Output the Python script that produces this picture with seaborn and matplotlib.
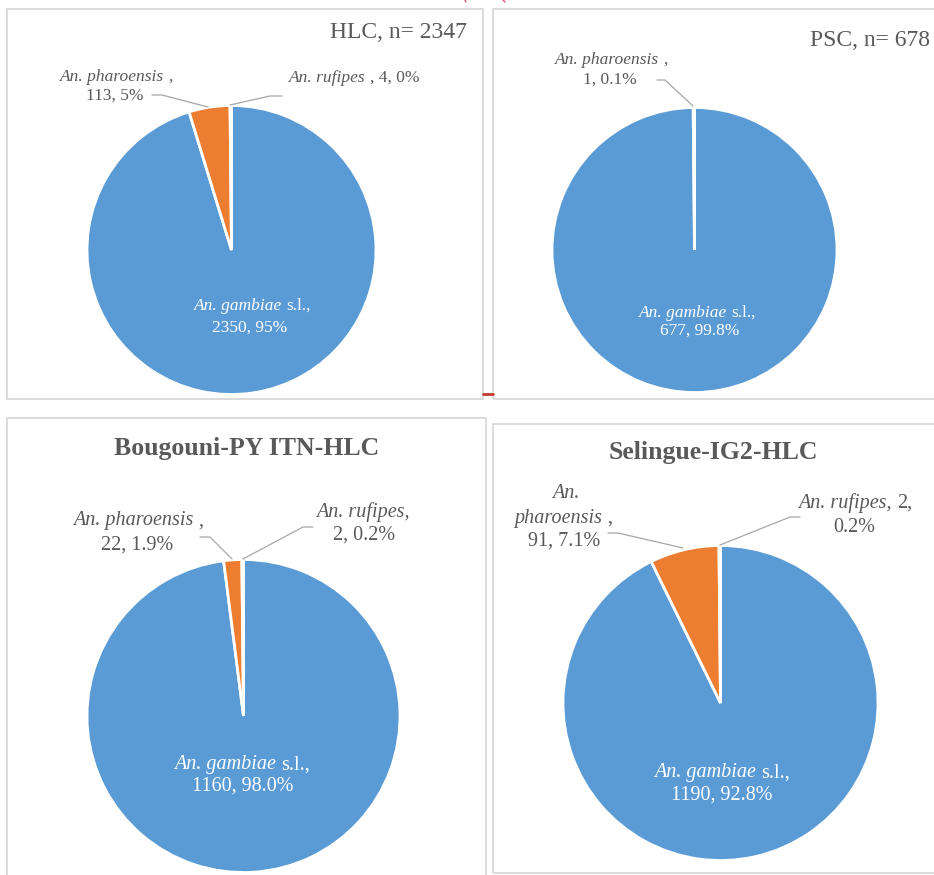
import numpy as np
import pandas as pd
import seaborn as sns
import matplotlib.pyplot as plt
from matplotlib.patches import Rectangle

sns.set_theme(style="white")
plt.rcParams["font.family"] = ["Liberation Serif", "DejaVu Serif"]

# data
species = ["An. gambiae", "An. pharoensis", "An. rufipes"]
hlc_counts = [2350, 113, 4]
hlc_labels = ["2350, 95%", "113, 5%", "4, 0%"]
psc_counts = [677, 1]
psc_labels = ["677, 99.8%", "1, 0.1%"]
bougouni_counts = [1160, 22, 2]
bougouni_labels = ["1160, 98.0%", "22, 1.9%", "2, 0.2%"]
selingue_counts = [1190, 91, 2]
selingue_labels = ["1190, 92.8%", "91, 7.1%", "2, 0.2%"]

colors = ["#5B9BD5", "#ED7D31", "#A5A5A5"]
txt = "#595959"
line_c = "#A6A6A6"
H = 875

fig = plt.figure(figsize=(9.34, 8.75), dpi=100)
ax = fig.add_axes([0, 0, 1, 1])
ax.set_xlim(0, 934)
ax.set_ylim(0, H)
renderer = fig.canvas.get_renderer()


def Y(y):
    return H - np.asarray(y)


def box(x0, y0, x1, y1):
    ax.add_patch(Rectangle((x0, Y(y1)), x1 - x0, y1 - y0, fill=False,
                           ec="#D9D9D9", lw=1.3, clip_on=False))


def pie(counts, cx, cy, r):
    ax.pie(counts, colors=colors[:len(counts)], startangle=90, counterclock=False,
           center=(cx, Y(cy)), radius=r, frame=True,
           wedgeprops=dict(edgecolor="white", linewidth=2))


def leader(xs, ys):
    ax.plot(xs, Y(ys), color=line_c, lw=0.9)


def label(x, y, parts, size, color=txt):
    # parts: list of (text, italic); a space is put between parts
    if isinstance(parts, str):
        parts = [(parts, False)]
    gap = size * 100 / 72 * 0.25
    objs = []
    for s, italic in parts:
        t = ax.text(0, Y(y), s, ha="left", va="center", fontsize=size, color=color,
                    fontstyle="italic" if italic else "normal")
        objs.append(t)
    widths = [t.get_window_extent(renderer).width for t in objs]
    total = sum(widths) + gap * (len(objs) - 1)
    cur = x - total / 2
    for t, w in zip(objs, widths):
        t.set_x(cur)
        cur += w + gap


# panel frames
box(7, 9, 483, 399)
box(493, 9, 945, 399)
box(7, 418, 486, 890)
box(493, 424, 945, 873)
ax.plot([483, 493], Y([394, 394]), color="#C0392B", lw=2)
ax.plot([465, 466], Y([0, 2]), color="#E05070", lw=1)
ax.plot([503, 505], Y([0, 2]), color="#E05070", lw=1)

# HLC
pie(hlc_counts, 231.5, 250, 144.5)
ax.text(467, Y(32), "HLC, n= 2347", ha="right", va="center", fontsize=17, color=txt)
label(116, 77, [(species[1], True), (",", False)], 12.5)
label(115, 96, hlc_labels[1], 12.5)
leader([152, 162, 208], [95, 95, 107])
label(354, 78, [(species[2], True), (", " + hlc_labels[2], False)], 12.5)
leader([230, 270, 282], [105, 96, 96])
label(252, 306, [(species[0], True), ("s.l.,", False)], 12.5, "white")
label(250, 328, hlc_labels[0], 12.5, "white")

# PSC
pie(psc_counts, 694.5, 250, 142.5)
ax.text(930, Y(40), "PSC, n= 678", ha="right", va="center", fontsize=17, color=txt)
label(611, 60, [(species[1], True), (",", False)], 12.5)
label(610, 80, psc_labels[1], 12.5)
leader([657, 665, 693], [80, 80, 106])
label(697, 313, [(species[0], True), ("s.l.,", False)], 12.5, "white")
label(700, 331, psc_labels[0], 12.5, "white")

# Bougouni
pie(bougouni_counts, 243.5, 716, 156.5)
ax.text(247, Y(448), "Bougouni-PY ITN-HLC", ha="center", va="center",
        fontsize=18.5, fontweight="bold", color=txt)
label(138, 521, [(species[1], True), (",", False)], 14.5)
label(137, 545, bougouni_labels[1], 14.5)
leader([200, 210, 232], [537, 537, 559])
label(363, 512, [(species[2] + ",", True)], 14.5)
label(364, 535, bougouni_labels[2], 14.5)
leader([243, 303, 313], [559, 527, 527])
label(242, 765, [(species[0], True), ("s.l.,", False)], 14.5, "white")
label(243, 786, bougouni_labels[0], 14.5, "white")

# Selingue
pie(selingue_counts, 720.5, 703, 157.5)
ax.text(713, Y(453), "Selingue-IG2-HLC", ha="center", va="center",
        fontsize=18.5, fontweight="bold", color=txt)
label(566, 493, [("An.", True)], 14.5)
label(563, 518, [("pharoensis", True), (",", False)], 14.5)
label(564, 541, selingue_labels[1], 14.5)
leader([608, 618, 683], [533, 533, 548])
label(855, 503, [(species[2] + ",", True), ("2,", False)], 14.5)
label(854, 527, "0.2%", 14.5)
leader([720, 790, 800], [545, 517, 517])
label(722, 773, [(species[0], True), ("s.l.,", False)], 14.5, "white")
label(722, 795, selingue_labels[0], 14.5, "white")

ax.set_xlim(0, 934)
ax.set_ylim(0, H)
ax.set_aspect("equal")
ax.axis("off")
fig.savefig("out.png", dpi=100)
